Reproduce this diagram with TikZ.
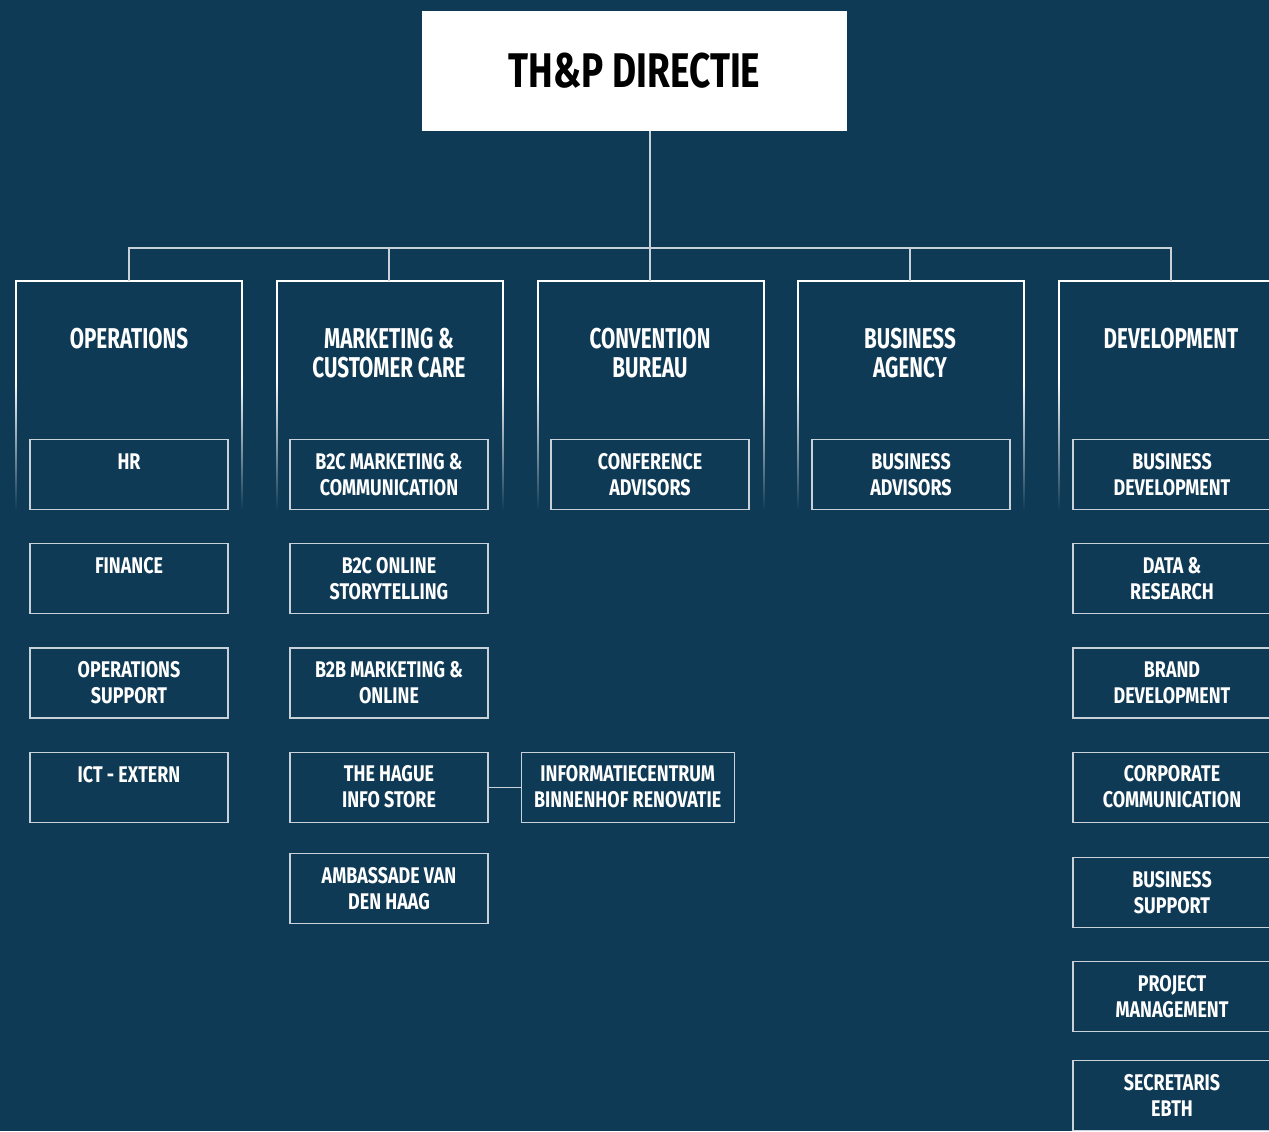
\documentclass[tikz,border=0pt]{standalone}
\usepackage{fontspec}
\setmainfont{Fira Sans}[FakeStretch=0.72]
\newfontfamily\unitfont{Fira Sans}[FakeStretch=0.79]
\newfontfamily\titlefont{Fira Sans}[FakeStretch=0.76]
\usetikzlibrary{positioning}
\definecolor{thpblue}{HTML}{0F3A55}
\definecolor{thpline}{HTML}{C9D1D8}

\begin{document}
\begin{tikzpicture}[
  x=0.75pt, y=-0.75pt,
  node distance=24.75pt,
  head/.style={fill=white, minimum width=318.75pt, minimum height=90pt,
    inner sep=0pt, font=\titlefont\fontsize{36.5}{40}\selectfont\bfseries, text=black},
  dept/.style={anchor=north, inner sep=0pt, align=center, text=white,
    font=\fontsize{21.5}{21.75}\selectfont\bfseries},
  unit/.style={draw=thpline, line width=0.9pt, minimum width=148.5pt,
    minimum height=52.5pt, inner sep=0pt, align=center, text=white,
    font=\unitfont\fontsize{17}{19.5}\selectfont\bfseries},
  link/.style={draw=thpline, line width=0.9pt}
]
\fill[thpblue] (0,0) rectangle (1269,1131);
\useasboundingbox (0,0) rectangle (1269,1131);

% department frames, sides fading out
\foreach \xl in {16,277,538,798,1059} {
  \draw[white, line width=0.9pt] (\xl,381) -- (\xl,281) -- (\xl+226,281) -- (\xl+226,381);
  \shade[top color=white, bottom color=thpblue] (\xl-0.6,380) rectangle (\xl+0.6,510);
  \shade[top color=white, bottom color=thpblue] (\xl+225.4,380) rectangle (\xl+226.6,510);
}

\node[head] (dir) at (634.5,71) {TH\&P DIRECTIE};

% departments
\node[dept] (ops) at (129,328) {OPERATIONS};
\node[dept] (mkt) at (389,328) {MARKETING \&\\CUSTOMER CARE};
\node[dept] (cb)  at (650,328) {CONVENTION\\BUREAU};
\node[dept] (ba)  at (910,328) {BUSINESS\\AGENCY};
\node[dept] (dev) at (1171,328) {DEVELOPMENT};

\coordinate (opsTop) at (129,281);
\coordinate (mktTop) at (389,281);
\coordinate (cbTop)  at (650,281);
\coordinate (baTop)  at (910,281);
\coordinate (devTop) at (1171,281);
\coordinate (bus) at (650,248);

\draw[link] (dir.south -| cbTop) -- (cbTop);
\draw[link] (opsTop) |- (devTop |- bus) -- (devTop);
\draw[link] (mktTop) -- (mktTop |- bus);
\draw[link] (baTop) -- (baTop |- bus);

% operations
\node[unit] (hr) at (129,474.5) {HR\\\phantom{H}};
\node[unit, below=of hr] (fin) {FINANCE\\\phantom{H}};
\node[unit, below=of fin] (opsup) {OPERATIONS\\SUPPORT};
\node[unit, below=of opsup] (ict) {ICT - EXTERN\\\phantom{H}};

% marketing & customer care
\node[unit] (b2cmc) at (389,474.5) {B2C MARKETING \&\\COMMUNICATION};
\node[unit, below=of b2cmc] (b2cos) {B2C ONLINE\\STORYTELLING};
\node[unit, below=of b2cos] (b2bmo) {B2B MARKETING \&\\ONLINE};
\node[unit, below=of b2bmo] (store) {THE HAGUE\\INFO STORE};
\node[unit, below=22.5pt of store] (amb) {AMBASSADE VAN\\DEN HAAG};
\node[unit, minimum width=159.75pt, right=24pt of store] (binnenhof)
  {INFORMATIECENTRUM\\BINNENHOF RENOVATIE};
\draw[link] (store) -- (binnenhof);

% convention bureau, business agency
\node[unit] (conf) at (650,474.5) {CONFERENCE\\ADVISORS};
\node[unit] (badv) at (911,474.5) {BUSINESS\\ADVISORS};

% development
\node[unit] (bdev) at (1172,474.5) {BUSINESS\\DEVELOPMENT};
\node[unit, below=of bdev] (data) {DATA \&\\RESEARCH};
\node[unit, below=of data] (brand) {BRAND\\DEVELOPMENT};
\node[unit, below=of brand] (corp) {CORPORATE\\COMMUNICATION};
\node[unit, below=25.5pt of corp] (bsup) {BUSINESS\\SUPPORT};
\node[unit, below=of bsup] (pm) {PROJECT\\MANAGEMENT};
\node[unit, below=21pt of pm] (secr) {SECRETARIS\\EBTH};
\end{tikzpicture}
\end{document}
